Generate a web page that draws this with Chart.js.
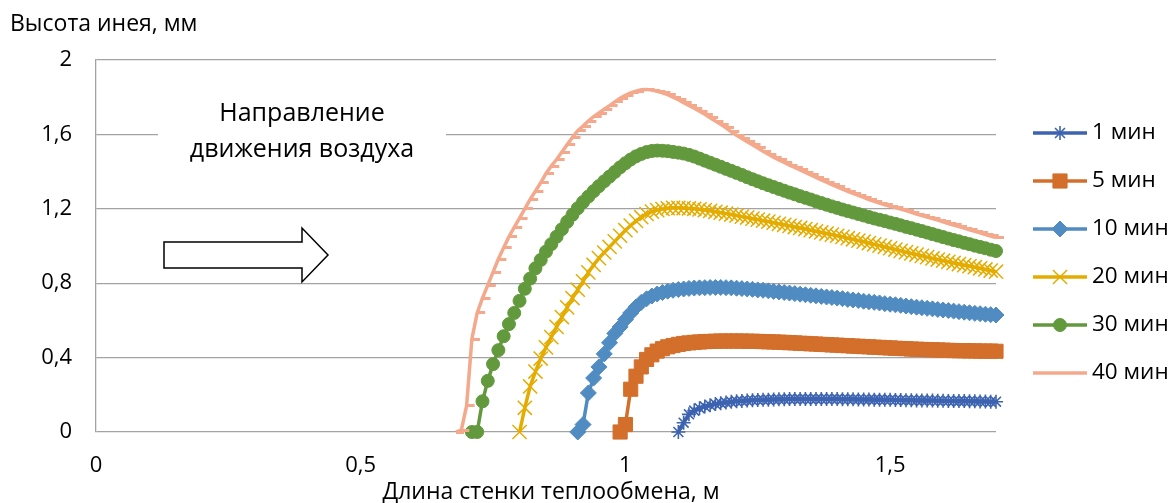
<!DOCTYPE html>
<html>
<head>
<meta charset="utf-8">
<script src="https://cdn.jsdelivr.net/npm/chart.js@4.4.1/dist/chart.umd.min.js"></script>
<style>
  html, body { margin: 0; padding: 0; background: #ffffff; }
  #wrap { width: 1173px; height: 503px; position: relative; }
</style>
</head>
<body>
<div id="wrap"><canvas id="frost" width="1173" height="503"></canvas></div>
<script>
// Wall length grid, m (shared by all series)
const lengths = [
  0.68, 0.69,
  0.70, 0.71, 0.72, 0.73, 0.74, 0.75, 0.76, 0.77, 0.78, 0.79,
  0.80, 0.81, 0.82, 0.83, 0.84, 0.85, 0.86, 0.87, 0.88, 0.89,
  0.90, 0.91, 0.92, 0.93, 0.94, 0.95, 0.96, 0.97, 0.98, 0.99,
  1.00, 1.01, 1.02, 1.03, 1.04, 1.05, 1.06, 1.07, 1.08, 1.09,
  1.10, 1.11, 1.12, 1.13, 1.14, 1.15, 1.16, 1.17, 1.18, 1.19,
  1.20, 1.21, 1.22, 1.23, 1.24, 1.25, 1.26, 1.27, 1.28, 1.29,
  1.30, 1.31, 1.32, 1.33, 1.34, 1.35, 1.36, 1.37, 1.38, 1.39,
  1.40, 1.41, 1.42, 1.43, 1.44, 1.45, 1.46, 1.47, 1.48, 1.49,
  1.50, 1.51, 1.52, 1.53, 1.54, 1.55, 1.56, 1.57, 1.58, 1.59,
  1.60, 1.61, 1.62, 1.63, 1.64, 1.65, 1.66, 1.67, 1.68, 1.69,
  1.70
];

const seriesNames = ['1 мин', '5 мин', '10 мин', '20 мин', '30 мин', '40 мин'];
// First wall length at which each series has a value
const seriesStart = [1.10, 0.99, 0.91, 0.80, 0.71, 0.68];

// Frost height, mm
const frost1 = [
  0, 0.05, 0.095, 0.115, 0.128, 0.137, 0.144, 0.15, 0.155, 0.159,
  0.162, 0.165, 0.167, 0.169, 0.171, 0.172, 0.173, 0.174, 0.175, 0.176,
  0.176, 0.177, 0.177, 0.177, 0.177, 0.177, 0.177, 0.177, 0.177, 0.177,
  0.177, 0.176, 0.176, 0.176, 0.175, 0.175, 0.175, 0.174, 0.174, 0.173,
  0.173, 0.172, 0.172, 0.171, 0.171, 0.17, 0.17, 0.169, 0.169, 0.168,
  0.168, 0.167, 0.167, 0.166, 0.166, 0.165, 0.165, 0.164, 0.164, 0.163,
  0.163
];
const frost5 = [
  0,
  0.04, 0.23, 0.30, 0.35, 0.39, 0.415, 0.435, 0.448, 0.458, 0.465,
  0.471, 0.476, 0.479, 0.482, 0.484, 0.486, 0.487, 0.488, 0.489, 0.489,
  0.489, 0.489, 0.489, 0.488, 0.488, 0.487, 0.486, 0.485, 0.484, 0.483,
  0.482, 0.48, 0.479, 0.477, 0.476, 0.474, 0.473, 0.471, 0.47, 0.468,
  0.467, 0.465, 0.464, 0.462, 0.461, 0.459, 0.458, 0.456, 0.455, 0.453,
  0.452, 0.45, 0.449, 0.448, 0.446, 0.445, 0.444, 0.443, 0.442, 0.441,
  0.44, 0.439, 0.438, 0.437, 0.437, 0.436, 0.436, 0.435, 0.435, 0.435,
  0.434
];
const frost10 = [
  0, 0.04, 0.21, 0.29, 0.35, 0.42, 0.48, 0.53, 0.565,
  0.605, 0.64, 0.672, 0.697, 0.716, 0.731, 0.742, 0.75, 0.757, 0.762,
  0.766, 0.769, 0.772, 0.774, 0.775, 0.776, 0.777, 0.777, 0.777, 0.776,
  0.775, 0.773, 0.771, 0.769, 0.767, 0.764, 0.762, 0.759, 0.756, 0.753,
  0.75, 0.747, 0.744, 0.741, 0.738, 0.735, 0.732, 0.729, 0.726, 0.723,
  0.72, 0.717, 0.713, 0.71, 0.707, 0.703, 0.7, 0.697, 0.694, 0.69,
  0.687, 0.684, 0.681, 0.677, 0.674, 0.671, 0.668, 0.665, 0.662, 0.659,
  0.656, 0.653, 0.65, 0.647, 0.644, 0.641, 0.638, 0.636, 0.633, 0.631,
  0.629
];
const frost20 = [
  0, 0.13, 0.245, 0.325, 0.395, 0.455, 0.51, 0.565, 0.618, 0.67,
  0.72, 0.765, 0.81, 0.858, 0.898, 0.935, 0.965, 0.995, 1.025, 1.055,
  1.085, 1.11, 1.135, 1.155, 1.172, 1.185, 1.193, 1.199, 1.203, 1.205,
  1.205, 1.204, 1.202, 1.2, 1.197, 1.193, 1.189, 1.184, 1.179, 1.174,
  1.169, 1.164, 1.158, 1.153, 1.147, 1.142, 1.136, 1.131, 1.125, 1.119,
  1.114, 1.108, 1.102, 1.097, 1.091, 1.085, 1.079, 1.073, 1.067, 1.061,
  1.055, 1.049, 1.042, 1.036, 1.029, 1.023, 1.016, 1.009, 1.002, 0.995,
  0.988, 0.981, 0.974, 0.967, 0.96, 0.954, 0.947, 0.94, 0.933, 0.927,
  0.921, 0.915, 0.909, 0.903, 0.897, 0.892, 0.886, 0.88, 0.874, 0.868,
  0.862
];
const frost30 = [
  0, 0, 0.165, 0.275, 0.365, 0.44, 0.515, 0.58, 0.64,
  0.705, 0.77, 0.825, 0.88, 0.925, 0.97, 1.01, 1.05, 1.09, 1.13,
  1.168, 1.203, 1.236, 1.266, 1.295, 1.322, 1.348, 1.373, 1.398, 1.423,
  1.445, 1.465, 1.482, 1.495, 1.505, 1.511, 1.513, 1.512, 1.51, 1.506,
  1.502, 1.497, 1.49, 1.481, 1.47, 1.459, 1.448, 1.437, 1.426, 1.415,
  1.404, 1.393, 1.382, 1.37, 1.359, 1.348, 1.337, 1.327, 1.317, 1.307,
  1.297, 1.287, 1.278, 1.268, 1.259, 1.25, 1.24, 1.231, 1.222, 1.213,
  1.205, 1.196, 1.188, 1.18, 1.172, 1.164, 1.156, 1.148, 1.141, 1.134,
  1.126, 1.119, 1.111, 1.103, 1.096, 1.088, 1.08, 1.072, 1.064, 1.056,
  1.048, 1.04, 1.032, 1.025, 1.017, 1.01, 1.002, 0.995, 0.988, 0.98,
  0.973
];
const frost40 = [
  0, 0.01,
  0.14, 0.50, 0.64, 0.72, 0.79, 0.86, 0.93, 0.99, 1.05, 1.10,
  1.15, 1.20, 1.25, 1.295, 1.34, 1.39, 1.43, 1.465, 1.505, 1.545,
  1.585, 1.62, 1.645, 1.672, 1.695, 1.715, 1.735, 1.755, 1.775, 1.795,
  1.81, 1.823, 1.833, 1.84, 1.842, 1.838, 1.832, 1.824, 1.814, 1.80,
  1.786, 1.771, 1.756, 1.741, 1.725, 1.708, 1.69, 1.672, 1.654, 1.635,
  1.614, 1.595, 1.578, 1.561, 1.544, 1.527, 1.51, 1.494, 1.478, 1.463,
  1.449, 1.435, 1.422, 1.409, 1.395, 1.382, 1.369, 1.356, 1.343, 1.33,
  1.318, 1.306, 1.294, 1.283, 1.272, 1.261, 1.25, 1.24, 1.231, 1.222,
  1.214, 1.206, 1.198, 1.19, 1.181, 1.172, 1.163, 1.155, 1.147, 1.139,
  1.13, 1.121, 1.113, 1.104, 1.096, 1.087, 1.079, 1.071, 1.062, 1.054,
  1.046
];

const xTickValues = [0, 0.5, 1, 1.5];
const xTickLabels = ['0', '0,5', '1', '1,5'];
const yTickValues = [0, 0.4, 0.8, 1.2, 1.6, 2];
const yTickLabels = ['0', '0,4', '0,8', '1,2', '1,6', '2'];

const FONT = '"Open Sans", "DejaVu Sans", sans-serif';
const TEXT = '#000000';
const GRID = '#a3a3a3';

// Short dash marker that trails to the right of each point
const dashMarker = document.createElement('canvas');
dashMarker.width = 20;
dashMarker.height = 3;
(function () {
  const c = dashMarker.getContext('2d');
  c.fillStyle = '#f4a88c';
  c.fillRect(10, 0, 8, 3);
})();

const styles = [
  { color: '#3d63b0', pointStyle: 'star',     radius: 7,   border: 1.6, lineWidth: 3.5 },
  { color: '#d36f2b', pointStyle: 'rect',     radius: 10,  border: 1,   lineWidth: 3.5 },
  { color: '#508bc1', pointStyle: 'rectRot',  radius: 8,   border: 1,   lineWidth: 3.5 },
  { color: '#e5ac00', pointStyle: 'crossRot', radius: 10,  border: 1.5, lineWidth: 3.5 },
  { color: '#63993d', pointStyle: 'circle',   radius: 6.5, border: 1,   lineWidth: 3.5 },
  { color: '#f4a88c', pointStyle: dashMarker, radius: 4,   border: 0,   lineWidth: 3.5 }
];

const seriesValues = [frost1, frost5, frost10, frost20, frost30, frost40];

function toPoints(values, start) {
  const offset = lengths.indexOf(start);
  return values.map((v, i) => ({ x: lengths[offset + i], y: v }));
}

const datasets = seriesNames.map((name, k) => ({
  label: name,
  data: toPoints(seriesValues[k], seriesStart[k]),
  borderColor: styles[k].color,
  backgroundColor: styles[k].color,
  borderWidth: styles[k].lineWidth,
  pointStyle: styles[k].pointStyle,
  pointRadius: styles[k].radius,
  pointBorderWidth: styles[k].border,
  pointBorderColor: styles[k].color,
  pointBackgroundColor: styles[k].color,
  pointHoverRadius: styles[k].radius,
  tension: 0,
  clip: false,
  order: 6 - k
}));

// Text box with the airflow arrow, drawn over the grid
const airflowNote = {
  id: 'airflowNote',
  beforeDatasetsDraw(chart) {
    const ctx = chart.ctx;
    ctx.save();
    ctx.fillStyle = '#ffffff';
    ctx.fillRect(158, 86, 288, 104);
    ctx.fillStyle = TEXT;
    ctx.font = '25px ' + FONT;
    ctx.textAlign = 'center';
    ctx.textBaseline = 'alphabetic';
    ctx.fillText('Направление', 302, 121);
    ctx.fillText('движения воздуха', 302, 157);

    ctx.beginPath();
    ctx.moveTo(164, 242);
    ctx.lineTo(302, 242);
    ctx.lineTo(302, 228);
    ctx.lineTo(328, 255);
    ctx.lineTo(302, 282);
    ctx.lineTo(302, 268);
    ctx.lineTo(164, 268);
    ctx.closePath();
    ctx.fillStyle = '#ffffff';
    ctx.fill();
    ctx.lineWidth = 1.5;
    ctx.strokeStyle = '#000000';
    ctx.stroke();
    ctx.restore();
  }
};

// Axis titles and the series key
const frame = {
  id: 'frame',
  afterDraw(chart) {
    const ctx = chart.ctx;
    ctx.save();
    ctx.fillStyle = TEXT;
    ctx.font = '23px ' + FONT;
    ctx.textBaseline = 'middle';
    ctx.textAlign = 'left';
    ctx.fillText('Высота инея, мм', 10, 24);
    ctx.textAlign = 'center';
    ctx.fillText('Длина стенки теплообмена, м', 551, 492);

    ctx.font = '22.5px ' + FONT;
    const x0 = 1033, x1 = 1087, xm = 1060;
    chart.data.datasets.forEach((ds, k) => {
      const y = 133 + 48 * k;
      const s = styles[k];
      ctx.beginPath();
      ctx.moveTo(x0, y);
      ctx.lineTo(x1, y);
      ctx.lineWidth = s.lineWidth;
      ctx.strokeStyle = s.color;
      ctx.stroke();
      if (typeof s.pointStyle === 'string') {
        ctx.fillStyle = s.color;
        ctx.strokeStyle = s.color;
        ctx.lineWidth = s.border;
        Chart.helpers.drawPoint(ctx, {
          pointStyle: s.pointStyle,
          radius: s.radius,
          borderWidth: s.border,
          rotation: 0
        }, xm, y);
      }
      ctx.fillStyle = TEXT;
      ctx.textAlign = 'left';
      ctx.textBaseline = 'middle';
      ctx.fillText(ds.label, 1092, y);
    });
    ctx.restore();
  }
};

new Chart(document.getElementById('frost'), {
  type: 'line',
  data: { datasets },
  options: {
    responsive: false,
    animation: false,
    devicePixelRatio: 1,
    layout: { padding: { left: 0, top: 60, right: 177, bottom: 0 } },
    plugins: {
      legend: { display: false },
      tooltip: { enabled: false },
      title: { display: false }
    },
    scales: {
      x: {
        type: 'linear',
        min: 0,
        max: 1.7,
        afterBuildTicks(scale) { scale.ticks = xTickValues.map(v => ({ value: v })); },
        afterFit(scale) { scale.height = 71; },
        grid: { display: false, drawTicks: false },
        border: { display: false },
        ticks: {
          padding: 21,
          color: TEXT,
          font: { family: FONT, size: 22 },
          maxRotation: 0,
          autoSkip: false,
          callback: (v, i) => xTickLabels[i]
        }
      },
      y: {
        type: 'linear',
        min: 0,
        max: 2,
        afterBuildTicks(scale) { scale.ticks = yTickValues.map(v => ({ value: v })); },
        afterFit(scale) { scale.width = 96; },
        grid: { color: GRID, lineWidth: 1.3, drawTicks: false },
        border: { display: true, color: GRID, width: 1.3 },
        ticks: {
          padding: 24,
          color: TEXT,
          font: { family: FONT, size: 22 },
          autoSkip: false,
          callback: (v, i) => yTickLabels[i]
        }
      }
    }
  },
  plugins: [airflowNote, frame]
});
</script>
</body>
</html>
